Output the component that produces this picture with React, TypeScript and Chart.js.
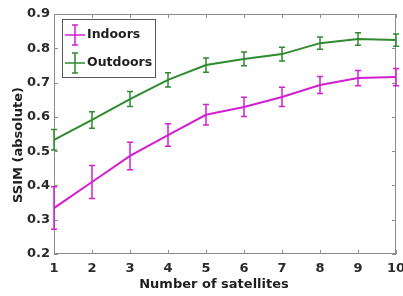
import React, { useEffect, useRef } from "react";
import { Chart, registerables } from "chart.js";

Chart.register(...registerables);

const satellites = [1, 2, 3, 4, 5, 6, 7, 8, 9, 10];
const indoors = [0.334, 0.41, 0.486, 0.547, 0.606, 0.629, 0.658, 0.693, 0.713, 0.716];
const indoorsErr = [0.062, 0.048, 0.04, 0.033, 0.03, 0.028, 0.028, 0.025, 0.022, 0.025];
const outdoors = [0.533, 0.591, 0.652, 0.708, 0.751, 0.769, 0.783, 0.815, 0.827, 0.824];
const outdoorsErr = [0.03, 0.024, 0.022, 0.021, 0.021, 0.02, 0.02, 0.018, 0.018, 0.018];
const yTicks = [0.2, 0.3, 0.4, 0.5, 0.6, 0.7, 0.8, 0.9];
const xTicks = [1, 2, 3, 4, 5, 6, 7, 8, 9, 10];
const xTitle = "Number of satellites";
const yTitle = "SSIM (absolute)";

const MAGENTA = "#d21fd2";
const GREEN = "#2e8b2e";
const FONT = "'DejaVu Sans', sans-serif";

const errorBarPlugin = {
  id: "errorBars",
  afterDatasetsDraw(chart: any) {
    const ctx = chart.ctx;
    const xs = chart.scales.x;
    const ys = chart.scales.y;
    chart.data.datasets.forEach((ds: any) => {
      const errs: number[] = ds.errors;
      ctx.save();
      ctx.strokeStyle = ds.borderColor;
      ctx.lineWidth = 1.5;
      ds.data.forEach((p: any, i: number) => {
        const x = xs.getPixelForValue(p.x);
        const y1 = ys.getPixelForValue(p.y - errs[i]);
        const y2 = ys.getPixelForValue(p.y + errs[i]);
        ctx.beginPath();
        ctx.moveTo(x, y1);
        ctx.lineTo(x, y2);
        ctx.moveTo(x - 3, y1);
        ctx.lineTo(x + 3, y1);
        ctx.moveTo(x - 3, y2);
        ctx.lineTo(x + 3, y2);
        ctx.stroke();
      });
      ctx.restore();
    });
  },
};

const framePlugin = {
  id: "frame",
  beforeDatasetsDraw(chart: any) {
    const ctx = chart.ctx;
    const a = chart.chartArea;
    const xs = chart.scales.x;
    const ys = chart.scales.y;
    ctx.save();
    ctx.strokeStyle = "#8c8c8c";
    ctx.lineWidth = 1;
    ctx.strokeRect(a.left + 0.5, a.top + 0.5, a.right - a.left - 1, a.bottom - a.top - 1);
    ctx.beginPath();
    xTicks.forEach((t) => {
      const x = Math.round(xs.getPixelForValue(t)) + 0.5;
      ctx.moveTo(x, a.bottom);
      ctx.lineTo(x, a.bottom - 4);
      ctx.moveTo(x, a.top);
      ctx.lineTo(x, a.top + 4);
    });
    yTicks.forEach((t) => {
      const y = Math.round(ys.getPixelForValue(t)) + 0.5;
      ctx.moveTo(a.left, y);
      ctx.lineTo(a.left + 4, y);
      ctx.moveTo(a.right, y);
      ctx.lineTo(a.right - 4, y);
    });
    ctx.stroke();
    // axis titles
    ctx.fillStyle = "#1e1e1e";
    ctx.font = `bold 13px ${FONT}`;
    ctx.textAlign = "center";
    ctx.textBaseline = "middle";
    ctx.fillText(xTitle, 214, 285);
    ctx.save();
    ctx.translate(19, 145);
    ctx.rotate(-Math.PI / 2);
    ctx.fillText(yTitle, 0, 0);
    ctx.restore();
    ctx.restore();
  },
};

const legendPlugin = {
  id: "boxLegend",
  afterDraw(chart: any) {
    const ctx = chart.ctx;
    const a = chart.chartArea;
    const left = a.left + 8;
    const top = a.top + 5;
    const w = 93;
    const h = 58;
    ctx.save();
    ctx.fillStyle = "#ffffff";
    ctx.fillRect(left, top, w, h);
    ctx.strokeStyle = "#555555";
    ctx.lineWidth = 1;
    ctx.strokeRect(left + 0.5, top + 0.5, w, h);
    chart.data.datasets.forEach((ds: any, i: number) => {
      const cy = top + 16 + i * 28;
      ctx.strokeStyle = ds.borderColor;
      ctx.lineWidth = 1.5;
      ctx.beginPath();
      ctx.moveTo(left + 3, cy);
      ctx.lineTo(left + 23, cy);
      ctx.moveTo(left + 13, cy - 10);
      ctx.lineTo(left + 13, cy + 10);
      ctx.moveTo(left + 10, cy - 10);
      ctx.lineTo(left + 16, cy - 10);
      ctx.moveTo(left + 10, cy + 10);
      ctx.lineTo(left + 16, cy + 10);
      ctx.stroke();
      ctx.fillStyle = "#1e1e1e";
      ctx.font = `bold 12.5px ${FONT}`;
      ctx.textBaseline = "middle";
      ctx.textAlign = "left";
      ctx.fillText(ds.label, left + 25, cy);
    });
    ctx.restore();
  },
};

export default function App() {
  const ref = useRef<HTMLCanvasElement>(null);
  useEffect(() => {
    const chart = new Chart(ref.current!, {
      type: "line",
      data: {
        datasets: [
          {
            label: "Indoors",
            data: indoors.map((v, i) => ({ x: satellites[i], y: v })) as any,
            errors: indoorsErr,
            borderColor: MAGENTA,
            backgroundColor: MAGENTA,
            borderWidth: 2,
            pointRadius: 0,
            tension: 0,
          } as any,
          {
            label: "Outdoors",
            data: outdoors.map((v, i) => ({ x: satellites[i], y: v })) as any,
            errors: outdoorsErr,
            borderColor: GREEN,
            backgroundColor: GREEN,
            borderWidth: 2,
            pointRadius: 0,
            tension: 0,
          } as any,
        ],
      },
      options: {
        animation: false,
        responsive: false,
        maintainAspectRatio: false,
        layout: { padding: { top: 14, right: 7, left: 0, bottom: 0 }, autoPadding: false },
        plugins: { legend: { display: false }, tooltip: { enabled: false } },
        scales: {
          x: {
            type: "linear",
            min: 1,
            max: 10,
            grid: { display: false, drawTicks: false },
            border: { display: false },
            ticks: {
              stepSize: 1,
              color: "#2a2a2a",
              font: { family: FONT, size: 13, weight: "bold" },
              padding: 7,
            },
            afterFit: (s: any) => {
              s.height = 42;
              s.paddingLeft = 0;
              s.paddingRight = 0;
            },
          },
          y: {
            min: 0.2,
            max: 0.9,
            grid: { display: false, drawTicks: false },
            border: { display: false },
            ticks: {
              stepSize: 0.1,
              color: "#2a2a2a",
              font: { family: FONT, size: 13, weight: "bold" },
              padding: 4,
              callback: (v: any) => Number(v).toFixed(1),
            },
            afterFit: (s: any) => {
              s.width = 54;
              s.paddingTop = 0;
              s.paddingBottom = 0;
            },
          },
        },
      },
      plugins: [framePlugin, errorBarPlugin, legendPlugin],
    });
    return () => chart.destroy();
  }, []);
  return (
    <div style={{ position: "fixed", left: 0, top: 0, width: 403, height: 296, background: "#fff" }}>
      <canvas ref={ref} width={403} height={296} style={{ width: 403, height: 296 }} />
    </div>
  );
}
